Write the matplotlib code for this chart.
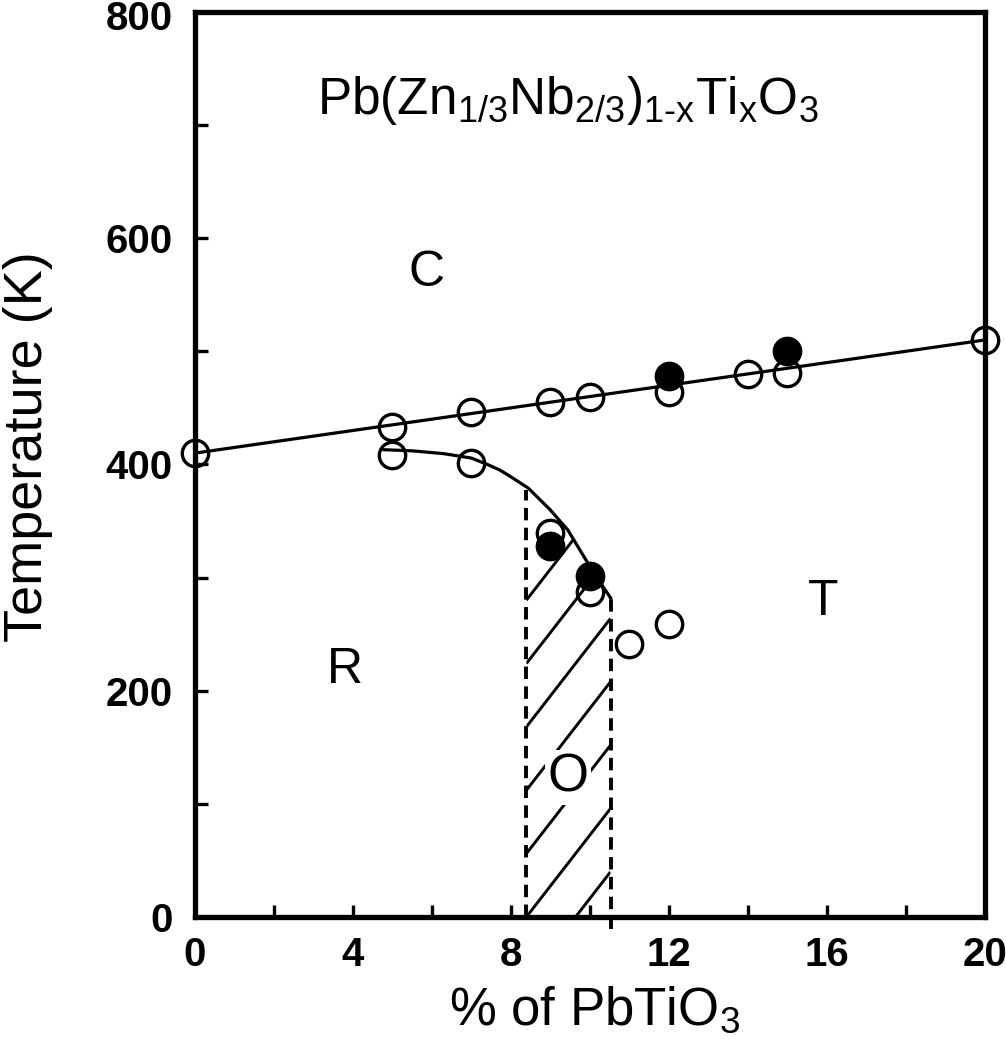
import numpy as np
import matplotlib
matplotlib.use("Agg")
import matplotlib.pyplot as plt
from matplotlib.patches import Polygon

plt.rcParams['font.family'] = ['Liberation Sans', 'DejaVu Sans']
plt.rcParams['mathtext.fontset'] = 'custom'
plt.rcParams['mathtext.rm'] = 'Liberation Sans'
plt.rcParams['mathtext.it'] = 'Liberation Sans'

# ---- data ----
# upper transition (C -> R/T), open symbols
open_up_x = [0, 5, 7, 9, 10, 12, 14, 15, 20]
open_up_T = [410, 433, 446, 455, 460, 464, 480, 481, 510]
# lower transition, open symbols
open_lo_x = [5, 7, 9, 10, 11, 12]
open_lo_T = [408, 401, 339, 287, 241, 259]
# filled symbols
filled_x = [9, 10, 12, 15]
filled_T = [328, 301, 478, 500]

# fitted lines
line_up_x = [0, 20]
line_up_T = [410, 510]
curve_x = [4.78, 5.5, 6.3, 7.0, 7.4, 7.72, 8.0, 8.44, 8.7, 8.99, 9.44, 9.89, 10.16, 10.52]
curve_T = [413, 412, 409.5, 405.6, 400, 395, 389, 379, 370, 360, 342, 316, 301, 282]

# orthorhombic region boundaries
bound_x = [8.39, 10.52]
bound_top = [377, 282]

x_major = [0, 4, 8, 12, 16, 20]
x_minor = [2, 6, 10, 14, 18]
y_major = [0, 200, 400, 600, 800]
y_labels = ['0', '200', '400', '600', '800']
y_minor = [100, 300, 500, 700]

fig = plt.figure(figsize=(10.06, 10.5), dpi=100)
ax = fig.add_axes([0.1938, 0.1267, 0.7853, 0.862])
ax.set_xlim(0, 20)
ax.set_ylim(0, 800)

# hatched O region
poly_pts = [(bound_x[0], 0), (bound_x[0], bound_top[0])]
for cx, cT in zip(curve_x, curve_T):
    if bound_x[0] < cx < bound_x[1]:
        poly_pts.append((cx, cT))
poly_pts += [(bound_x[1], bound_top[1]), (bound_x[1], 0)]
clip = Polygon(poly_pts, closed=True, facecolor='none', edgecolor='none', transform=ax.transData)
ax.add_patch(clip)
slope = 45.0
spacing = 56.0
for k in range(-1, 6):
    c = k * spacing
    hl, = ax.plot(bound_x, [c, c + slope * (bound_x[1] - bound_x[0])], color='black', lw=2.1,
                  solid_capstyle='butt', zorder=2)
    hl.set_clip_path(clip)

# dashed boundaries
ax.plot([bound_x[0], bound_x[0]], [0, bound_top[0]], color='black', lw=2.8,
        ls=(0, (3.2, 1.9)), zorder=3)
ax.plot([bound_x[1], bound_x[1]], [-11, bound_top[1]], color='black', lw=2.8,
        ls=(0, (3.2, 1.9)), zorder=3, clip_on=False)

# lines
ax.plot(line_up_x, line_up_T, color='black', lw=2.3, zorder=3)
ax.plot(curve_x, curve_T, color='black', lw=2.3, zorder=3)

# symbols
ax.plot(open_up_x, open_up_T, 'o', ms=19, mfc='none', mec='black', mew=2.4, zorder=4, clip_on=False)
ax.plot(open_lo_x, open_lo_T, 'o', ms=19, mfc='none', mec='black', mew=2.4, zorder=4, clip_on=False)
ax.plot(filled_x, filled_T, 'o', ms=19, mfc='black', mec='black', mew=2.4, zorder=5)

# region labels
ax.text(5.87, 569, 'C', fontsize=36, ha='center', va='center')
ax.text(15.9, 278, 'T', fontsize=36, ha='center', va='center')
ax.text(3.79, 218, 'R', fontsize=36, ha='center', va='center')
ax.text(9.44, 123, 'O', fontsize=38, ha='center', va='center', zorder=6,
        bbox=dict(boxstyle='square,pad=0.05', fc='white', ec='none'))
ax.text(9.44, 722,
        'Pb(Zn$_\\mathregular{1/3}$Nb$_\\mathregular{2/3}$)$_\\mathregular{1\u2010x}$Ti$_\\mathregular{x}$O$_\\mathregular{3}$',
        fontsize=37, ha='center', va='center')

# axes styling
for s in ax.spines.values():
    s.set_linewidth(3.8)
ax.set_xticks(x_major)
ax.set_xticks(x_minor, minor=True)
ax.set_yticks(y_major)
ax.set_yticklabels(y_labels[:-1] + [''])
ax.set_yticks(y_minor, minor=True)
ax.tick_params(which='both', direction='in', length=9, width=2.4, top=False, right=False)
ax.tick_params(axis='x', which='major', pad=14, labelsize=29)
ax.tick_params(axis='y', which='major', pad=16, labelsize=29)
for lab in ax.get_xticklabels() + ax.get_yticklabels():
    lab.set_fontweight('bold')
# top y label placed so it stays inside the figure
ax.annotate(y_labels[-1], xy=(0, y_major[-1]), xycoords=('axes fraction', 'data'),
            xytext=(-16, 8.4), textcoords='offset points', ha='right', va='top',
            fontsize=29, fontweight='bold', annotation_clip=False)

ax.text(0.506, -0.103, r'% of PbTiO$_\mathregular{3}$', transform=ax.transAxes,
        fontsize=38, ha='center', va='center')
ax.text(-0.211, 0.52, 'Temperature (K)', transform=ax.transAxes, rotation=90,
        fontsize=39, ha='center', va='center')

fig.savefig('out.png', dpi=100)
